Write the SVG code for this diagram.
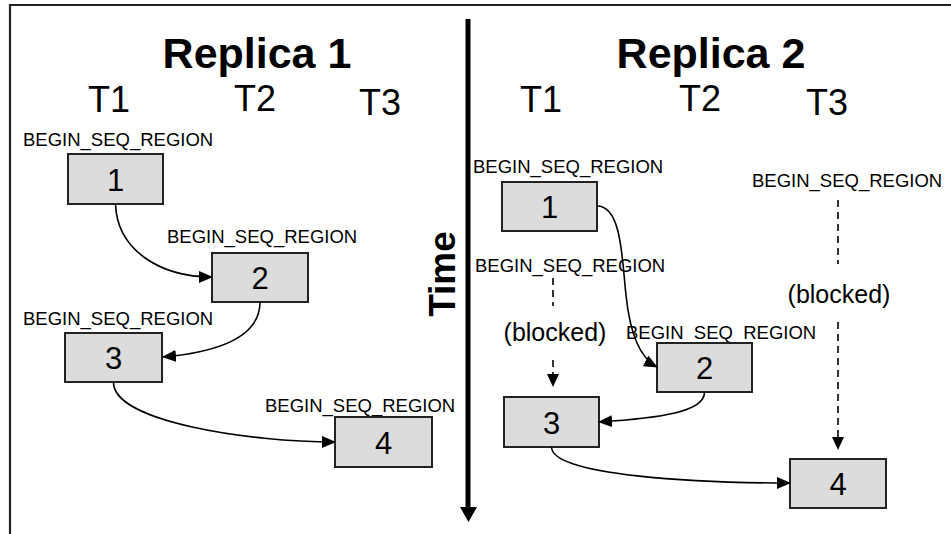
<svg xmlns="http://www.w3.org/2000/svg" width="951" height="534" viewBox="0 0 951 534">
  <style>
    text { font-family: "Liberation Sans", Arial, sans-serif; fill: #000; }
    .title { font-size: 43px; font-weight: bold; text-anchor: middle; }
    .thread { font-size: 36px; text-anchor: middle; }
    .tag { font-size: 18.5px; }
    .num { font-size: 31px; text-anchor: middle; }
    .note { font-size: 25px; text-anchor: middle; }
    .box { fill: #dcdcdc; stroke: #222; stroke-width: 2; }
    .edge { fill: none; stroke: #000; stroke-width: 1.6; marker-end: url(#arrow); }
    .wait { fill: none; stroke: #000; stroke-width: 1.6; stroke-dasharray: 7 5; }
  </style>
  <defs>
    <marker id="arrow" viewBox="0 0 14 12" refX="13" refY="6" markerWidth="14" markerHeight="12" markerUnits="userSpaceOnUse" orient="auto">
      <path d="M0,0 L14,6 L0,12 Z" fill="#000"/>
    </marker>
  </defs>

  <rect width="951" height="534" fill="#fff"/>

  <!-- outer frame (top and left edges) -->
  <path d="M10,534 L10,5 L951,5" fill="none" stroke="#222" stroke-width="2.2"/>

  <!-- time axis -->
  <g id="time-axis">
    <line x1="468" y1="19" x2="468" y2="508" stroke="#000" stroke-width="5"/>
    <path d="M460,507 L477,507 L468.5,522 Z" fill="#000"/>
    <text x="455" y="274" font-size="37" font-weight="bold" text-anchor="middle" transform="rotate(-90 455 274)">Time</text>
  </g>

  <!-- headings -->
  <g id="replica1-heading">
    <text class="title" x="257" y="68">Replica 1</text>
    <text class="thread" x="109" y="112">T1</text>
    <text class="thread" x="255" y="111">T2</text>
    <text class="thread" x="380" y="115">T3</text>
  </g>
  <g id="replica2-heading">
    <text class="title" x="711" y="68">Replica 2</text>
    <text class="thread" x="541" y="112">T1</text>
    <text class="thread" x="700" y="111">T2</text>
    <text class="thread" x="827" y="115">T3</text>
  </g>

  <!-- Replica 1 nodes -->
  <g id="r1-n1">
    <text class="tag" x="23" y="146">BEGIN_SEQ_REGION</text>
    <rect class="box" x="68" y="154" width="95" height="50"/>
    <text class="num" x="115.5" y="191">1</text>
  </g>
  <g id="r1-n2">
    <text class="tag" x="167" y="243">BEGIN_SEQ_REGION</text>
    <rect class="box" x="212" y="253" width="96" height="49"/>
    <text class="num" x="260" y="289">2</text>
  </g>
  <g id="r1-n3">
    <text class="tag" x="23" y="325">BEGIN_SEQ_REGION</text>
    <rect class="box" x="65" y="333" width="97" height="49"/>
    <text class="num" x="113.5" y="369">3</text>
  </g>
  <g id="r1-n4">
    <text class="tag" x="265" y="412">BEGIN_SEQ_REGION</text>
    <rect class="box" x="335" y="417" width="97" height="50"/>
    <text class="num" x="383.5" y="454">4</text>
  </g>

  <!-- Replica 2 nodes -->
  <g id="r2-n1">
    <text class="tag" x="473" y="173">BEGIN_SEQ_REGION</text>
    <rect class="box" x="502" y="182" width="95" height="49"/>
    <text class="num" x="549.5" y="218">1</text>
  </g>
  <g id="r2-n2">
    <text class="tag" x="626" y="339">BEGIN_SEQ_REGION</text>
    <rect class="box" x="657" y="343" width="95" height="49"/>
    <text class="num" x="704.5" y="379">2</text>
  </g>
  <g id="r2-n3">
    <text class="tag" x="475" y="272">BEGIN_SEQ_REGION</text>
    <text class="note" x="555" y="341">(blocked)</text>
    <rect class="box" x="504" y="397" width="95" height="50"/>
    <text class="num" x="551.5" y="434">3</text>
  </g>
  <g id="r2-n4">
    <text class="tag" x="752" y="187">BEGIN_SEQ_REGION</text>
    <text class="note" x="839" y="303">(blocked)</text>
    <rect class="box" x="790" y="459" width="96" height="49"/>
    <text class="num" x="838" y="495">4</text>
  </g>

  <!-- connectors -->
  <g id="connectors">
    <path class="edge" d="M115.5,204 C117,250 160,277 212,277"/>
    <path class="edge" d="M260,302 C260,336 220,352 163,357"/>
    <path class="edge" d="M113.5,382 C113,422 250,442 335,442"/>

    <path class="edge" d="M597,206 C622,206 622,260 626,295 C630,335 640,358 657,367"/>
    <path class="edge" d="M704.5,392 C705,412 660,418 599,422"/>
    <path class="edge" d="M551.5,447 C552,476 700,483 790,483"/>

    <path class="wait" d="M553,278 L553,306"/>
    <path class="wait" d="M553,360 L553,376"/>
    <path d="M547,374 L559,374 L553,387 Z" fill="#000"/>
    <path class="wait" d="M838,200 L838,264"/>
    <path class="wait" d="M838,322 L838,439"/>
    <path d="M832,437 L844,437 L838,450 Z" fill="#000"/>
  </g>
</svg>
